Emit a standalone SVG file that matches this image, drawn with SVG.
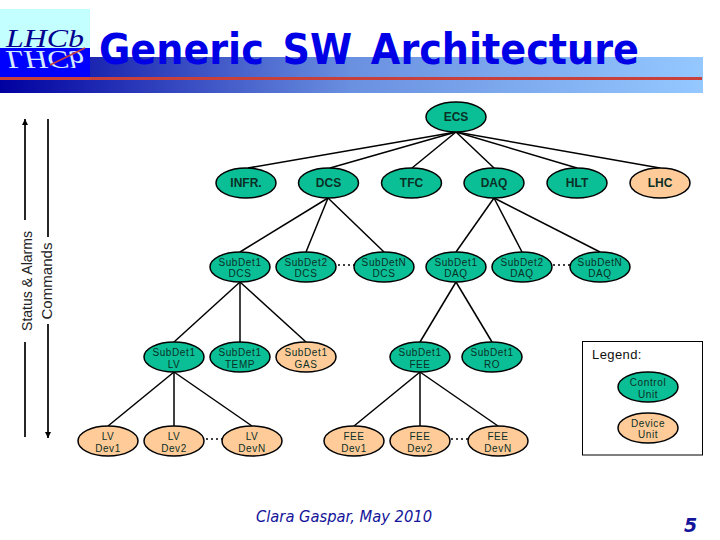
<svg xmlns="http://www.w3.org/2000/svg" width="720" height="540" viewBox="0 0 720 540">
<style>
.cu{fill:#0abf96;stroke:#000;stroke-width:1.5}
.du{fill:#ffcc99;stroke:#000;stroke-width:1.5}
.big{font:bold 12px "Liberation Sans",Arial,sans-serif;fill:#0b2f26;text-anchor:middle}
.sm{font:10px "Liberation Sans",Arial,sans-serif;fill:#0b2f26;text-anchor:middle;letter-spacing:.6px}
.side{font:14px "Liberation Sans",Arial,sans-serif;fill:#222;text-anchor:middle}
#connectors line{stroke:#000;stroke-width:1.5}
#connectors line.dots{stroke-width:1.7;stroke-dasharray:2 3}
</style>
<defs>
<linearGradient id="band" x1="0" x2="1" y1="0" y2="0"><stop offset="0" stop-color="#0000a0"/><stop offset=".5" stop-color="#6a90e0"/><stop offset="1" stop-color="#94c8ff"/></linearGradient>
<marker id="ah" markerWidth="7" markerHeight="7" refX="6" refY="3" orient="auto" markerUnits="userSpaceOnUse"><path d="M0 0L6 3L0 6Z" fill="#000"/></marker>
</defs>
<rect width="720" height="540" fill="#fff"/>
<g id="header">
<rect x="0" y="57" width="703" height="36" fill="url(#band)"/>
<rect x="0" y="77" width="702" height="3" fill="#c8403c"/>
<rect x="0" y="9" width="90" height="39" fill="#c4ffff"/>
<rect x="0" y="48" width="90" height="29" fill="#0000ff"/>
<text x="6" y="47" font-family="Liberation Serif,serif" font-style="italic" font-size="25" fill="#000090" textLength="78" lengthAdjust="spacingAndGlyphs">LHCb</text>
<text transform="translate(0,96) scale(1,-1)" x="6" y="45" font-family="Liberation Serif,serif" font-style="italic" font-size="25" fill="#d8e8ff" textLength="78" lengthAdjust="spacingAndGlyphs">LHCb</text>
<line x1="50" y1="65" x2="85" y2="48" stroke="#c8403c" stroke-width="1.5"/>
<text x="99" y="64" font-family="DejaVu Sans,sans-serif" font-weight="bold" font-size="42" fill="#0000e6" textLength="540" lengthAdjust="spacingAndGlyphs" word-spacing="6">Generic SW Architecture</text>
</g>
<g id="connectors">
<line x1="456" y1="132" x2="248" y2="168"/><line x1="456" y1="132" x2="330" y2="168"/><line x1="456" y1="132" x2="412" y2="168"/><line x1="456" y1="132" x2="494" y2="168"/><line x1="456" y1="132" x2="577" y2="168"/><line x1="456" y1="132" x2="660" y2="168"/>
<line x1="328" y1="198" x2="240" y2="252"/><line x1="328" y1="198" x2="306" y2="252"/><line x1="328" y1="198" x2="384" y2="252"/>
<line x1="494" y1="198" x2="456" y2="252"/><line x1="494" y1="198" x2="522" y2="252"/><line x1="494" y1="198" x2="600" y2="252"/>
<line x1="240" y1="282" x2="174" y2="342"/><line x1="240" y1="282" x2="240" y2="342"/><line x1="240" y1="282" x2="306" y2="342"/>
<line x1="456" y1="282" x2="420" y2="342"/><line x1="456" y1="282" x2="492" y2="342"/>
<line x1="174" y1="372" x2="108" y2="426"/><line x1="174" y1="372" x2="174" y2="426"/><line x1="174" y1="372" x2="252" y2="426"/>
<line x1="420" y1="372" x2="354" y2="426"/><line x1="420" y1="372" x2="420" y2="426"/><line x1="420" y1="372" x2="498" y2="426"/>
<line class="dots" x1="338" y1="265" x2="354" y2="265"/><line class="dots" x1="553" y1="265" x2="570" y2="265"/><line class="dots" x1="206" y1="439" x2="222" y2="439"/><line class="dots" x1="451" y1="439" x2="468" y2="439"/>
<line x1="25" y1="220" x2="25" y2="119" marker-end="url(#ah)" style="stroke-width:1.7"/>
<line x1="25" y1="342" x2="25" y2="437" style="stroke-width:1.7"/>
<line x1="48" y1="119" x2="48" y2="237" style="stroke-width:1.7"/>
<line x1="48" y1="324" x2="48" y2="438" marker-end="url(#ah)" style="stroke-width:1.7"/>
</g>
<text class="side" transform="translate(32,281) rotate(-90)" textLength="100" lengthAdjust="spacingAndGlyphs">Status &amp; Alarms</text>
<text class="side" transform="translate(52,281) rotate(-90)" textLength="77" lengthAdjust="spacingAndGlyphs">Commands</text>
<g id="ecs"><ellipse class="cu" cx="456" cy="117" rx="30" ry="15"/><text class="big" x="456" y="121">ECS</text></g>
<g id="infr"><ellipse class="cu" cx="246" cy="183" rx="30" ry="15"/><text class="big" x="246" y="187">INFR.</text></g>
<g id="dcs"><ellipse class="cu" cx="328.500" cy="183" rx="30" ry="15"/><text class="big" x="328.500" y="187">DCS</text></g>
<g id="tfc"><ellipse class="cu" cx="411.500" cy="183" rx="30" ry="15"/><text class="big" x="411.500" y="187">TFC</text></g>
<g id="daq"><ellipse class="cu" cx="494" cy="183" rx="30" ry="15"/><text class="big" x="494" y="187">DAQ</text></g>
<g id="hlt"><ellipse class="cu" cx="577" cy="183" rx="30" ry="15"/><text class="big" x="577" y="187">HLT</text></g>
<g id="lhc"><ellipse class="du" cx="660" cy="183" rx="30" ry="15"/><text class="big" x="660" y="187">LHC</text></g>
<g id="sd1dcs"><ellipse class="cu" cx="240" cy="267" rx="30" ry="15"/><text class="sm" x="240" y="266">SubDet1</text><text class="sm" x="240" y="277">DCS</text></g>
<g id="sd2dcs"><ellipse class="cu" cx="306" cy="267" rx="30" ry="15"/><text class="sm" x="306" y="266">SubDet2</text><text class="sm" x="306" y="277">DCS</text></g>
<g id="sdndcs"><ellipse class="cu" cx="384" cy="267" rx="30" ry="15"/><text class="sm" x="384" y="266">SubDetN</text><text class="sm" x="384" y="277">DCS</text></g>
<g id="sd1daq"><ellipse class="cu" cx="456" cy="267" rx="30" ry="15"/><text class="sm" x="456" y="266">SubDet1</text><text class="sm" x="456" y="277">DAQ</text></g>
<g id="sd2daq"><ellipse class="cu" cx="522" cy="267" rx="30" ry="15"/><text class="sm" x="522" y="266">SubDet2</text><text class="sm" x="522" y="277">DAQ</text></g>
<g id="sdndaq"><ellipse class="cu" cx="600" cy="267" rx="30" ry="15"/><text class="sm" x="600" y="266">SubDetN</text><text class="sm" x="600" y="277">DAQ</text></g>
<g id="sd1lv"><ellipse class="cu" cx="174" cy="357" rx="30" ry="15"/><text class="sm" x="174" y="356">SubDet1</text><text class="sm" x="174" y="368">LV</text></g>
<g id="sd1temp"><ellipse class="cu" cx="240" cy="357" rx="30" ry="15"/><text class="sm" x="240" y="356">SubDet1</text><text class="sm" x="240" y="368">TEMP</text></g>
<g id="sd1gas"><ellipse class="du" cx="306" cy="357" rx="30" ry="15"/><text class="sm" x="306" y="356">SubDet1</text><text class="sm" x="306" y="368">GAS</text></g>
<g id="sd1fee"><ellipse class="cu" cx="420" cy="357" rx="30" ry="15"/><text class="sm" x="420" y="356">SubDet1</text><text class="sm" x="420" y="368">FEE</text></g>
<g id="sd1ro"><ellipse class="cu" cx="492" cy="357" rx="30" ry="15"/><text class="sm" x="492" y="356">SubDet1</text><text class="sm" x="492" y="368">RO</text></g>
<g id="lvdev1"><ellipse class="du" cx="108" cy="441" rx="30" ry="15"/><text class="sm" x="108" y="440">LV</text><text class="sm" x="108" y="452">Dev1</text></g>
<g id="lvdev2"><ellipse class="du" cx="174" cy="441" rx="30" ry="15"/><text class="sm" x="174" y="440">LV</text><text class="sm" x="174" y="452">Dev2</text></g>
<g id="lvdevn"><ellipse class="du" cx="252" cy="441" rx="30" ry="15"/><text class="sm" x="252" y="440">LV</text><text class="sm" x="252" y="452">DevN</text></g>
<g id="feedev1"><ellipse class="du" cx="354" cy="441" rx="30" ry="15"/><text class="sm" x="354" y="440">FEE</text><text class="sm" x="354" y="452">Dev1</text></g>
<g id="feedev2"><ellipse class="du" cx="420" cy="441" rx="30" ry="15"/><text class="sm" x="420" y="440">FEE</text><text class="sm" x="420" y="452">Dev2</text></g>
<g id="feedevn"><ellipse class="du" cx="498" cy="441" rx="30" ry="15"/><text class="sm" x="498" y="440">FEE</text><text class="sm" x="498" y="452">DevN</text></g>
<g id="legend">
<rect x="582.500" y="341.500" width="120" height="113.500" fill="#fff" stroke="#000" stroke-width="1"/>
<text x="592" y="359" font-family="Liberation Sans,sans-serif" font-size="13" fill="#111" letter-spacing=".4">Legend:</text>
<ellipse class="cu" cx="648" cy="387" rx="30" ry="15"/><text class="sm" x="648" y="386">Control</text><text class="sm" x="648" y="398">Unit</text>
<ellipse class="du" cx="648" cy="428" rx="30" ry="15"/><text class="sm" x="648" y="427">Device</text><text class="sm" x="648" y="438">Unit</text>
</g>
<text x="256" y="522" font-family="DejaVu Sans,sans-serif" font-style="italic" font-size="15" fill="#14149a" textLength="176" lengthAdjust="spacingAndGlyphs">Clara Gaspar, May 2010</text>
<text x="684" y="532" font-family="DejaVu Sans,sans-serif" font-style="italic" font-weight="bold" font-size="19" fill="#14149a">5</text>
</svg>
